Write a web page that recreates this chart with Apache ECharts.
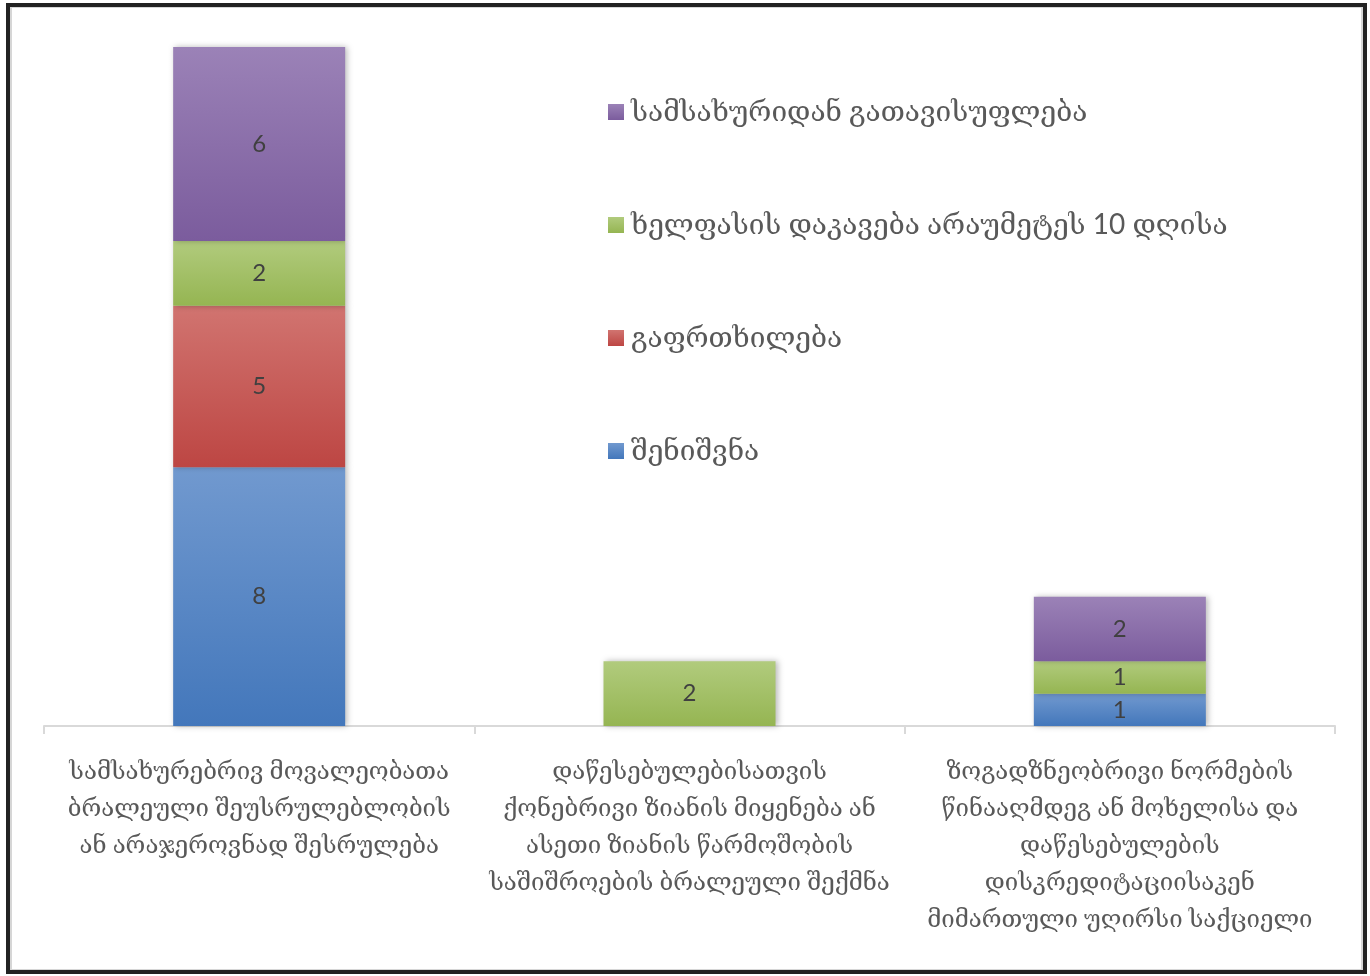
<!DOCTYPE html>
<html>
<head>
<meta charset="utf-8">
<script src="https://cdn.jsdelivr.net/npm/echarts@6/dist/echarts.min.js"></script>
<style>
  html, body { margin: 0; padding: 0; background: #ffffff; }
  #chart { width: 1370px; height: 976px; }
</style>
</head>
<body>
<div id="chart"></div>
<script>
// Disciplinary measures by type of misconduct
const categories = [
  'სამსახურებრივ მოვალეობათა\nბრალეული შეუსრულებლობის\nან არაჯეროვნად შესრულება',
  'დაწესებულებისათვის\nქონებრივი ზიანის მიყენება ან\nასეთი ზიანის წარმოშობის\nსაშიშროების ბრალეული შექმნა',
  'ზოგადზნეობრივი ნორმების\nწინააღმდეგ ან მოხელისა და\nდაწესებულების\nდისკრედიტაციისაკენ\nმიმართული უღირსი საქციელი'
];

const seriesNames = [
  'შენიშვნა',
  'გაფრთხილება',
  'ხელფასის დაკავება არაუმეტეს 10 დღისა',
  'სამსახურიდან გათავისუფლება'
];

const remarkValues    = [8, null, 1];
const warningValues   = [5, null, null];
const salaryValues    = [2, 2, 1];
const dismissalValues = [6, null, 2];

const seriesValues = [remarkValues, warningValues, salaryValues, dismissalValues];

// top / bottom colours of each segment's vertical gradient
const gradientStops = [
  ['#7199cf', '#4377bb'],
  ['#d17470', '#bd4643'],
  ['#b1cb7d', '#95b552'],
  ['#9b82b7', '#7b5c9d']
];

const FONT = 'Lato, "DejaVu Serif", "DejaVu Sans", sans-serif';

const chart = echarts.init(document.getElementById('chart'), null, { renderer: 'canvas' });

const series = seriesNames.map((name, i) => ({
  name: name,
  type: 'bar',
  stack: 'total',
  barWidth: 172,
  data: seriesValues[i],
  itemStyle: {
    color: {
      type: 'linear', x: 0, y: 0, x2: 0, y2: 1,
      colorStops: [
        { offset: 0, color: gradientStops[i][0] },
        { offset: 1, color: gradientStops[i][1] }
      ]
    },
    shadowBlur: 6,
    shadowColor: 'rgba(0,0,0,0.28)',
    shadowOffsetX: 2,
    shadowOffsetY: 0
  },
  label: {
    show: true,
    position: 'inside',
    color: '#404040',
    fontSize: 24,
    fontFamily: FONT
  },
  emphasis: { disabled: true }
}));

chart.setOption({
  animation: false,
  backgroundColor: '#ffffff',
  grid: { left: 44, right: 35, top: 47, bottom: 250, containLabel: false },
  legend: {
    orient: 'vertical',
    left: 603,
    top: 93,
    itemWidth: 16,
    itemHeight: 16,
    itemGap: 85,
    icon: 'rect',
    data: seriesNames.slice().reverse(),
    textStyle: {
      color: '#595959',
      fontSize: 28,
      lineHeight: 26,
      fontFamily: FONT,
      padding: [0, 0, 0, 2]
    },
    selectedMode: false
  },
  xAxis: {
    type: 'category',
    data: categories,
    axisLine: { show: true, lineStyle: { color: '#d9d9d9', width: 2 } },
    axisTick: { show: true, length: 8, lineStyle: { color: '#d9d9d9', width: 2 } },
    axisLabel: {
      interval: 0,
      margin: 27,
      color: '#595959',
      fontSize: 24,
      lineHeight: 37,
      fontFamily: FONT,
      align: 'center'
    }
  },
  yAxis: {
    type: 'value',
    min: 0,
    max: 21,
    show: false,
    splitLine: { show: false }
  },
  graphic: [
    {
      type: 'rect',
      shape: { x: 11, y: 7, width: 1351, height: 963 },
      style: { fill: 'none', stroke: '#d6d6d6', lineWidth: 2 },
      silent: true
    },
    {
      type: 'rect',
      shape: { x: 8, y: 5, width: 1357, height: 967 },
      style: { fill: 'none', stroke: '#222222', lineWidth: 4 },
      silent: true
    }
  ],
  series: series
});
</script>
</body>
</html>
